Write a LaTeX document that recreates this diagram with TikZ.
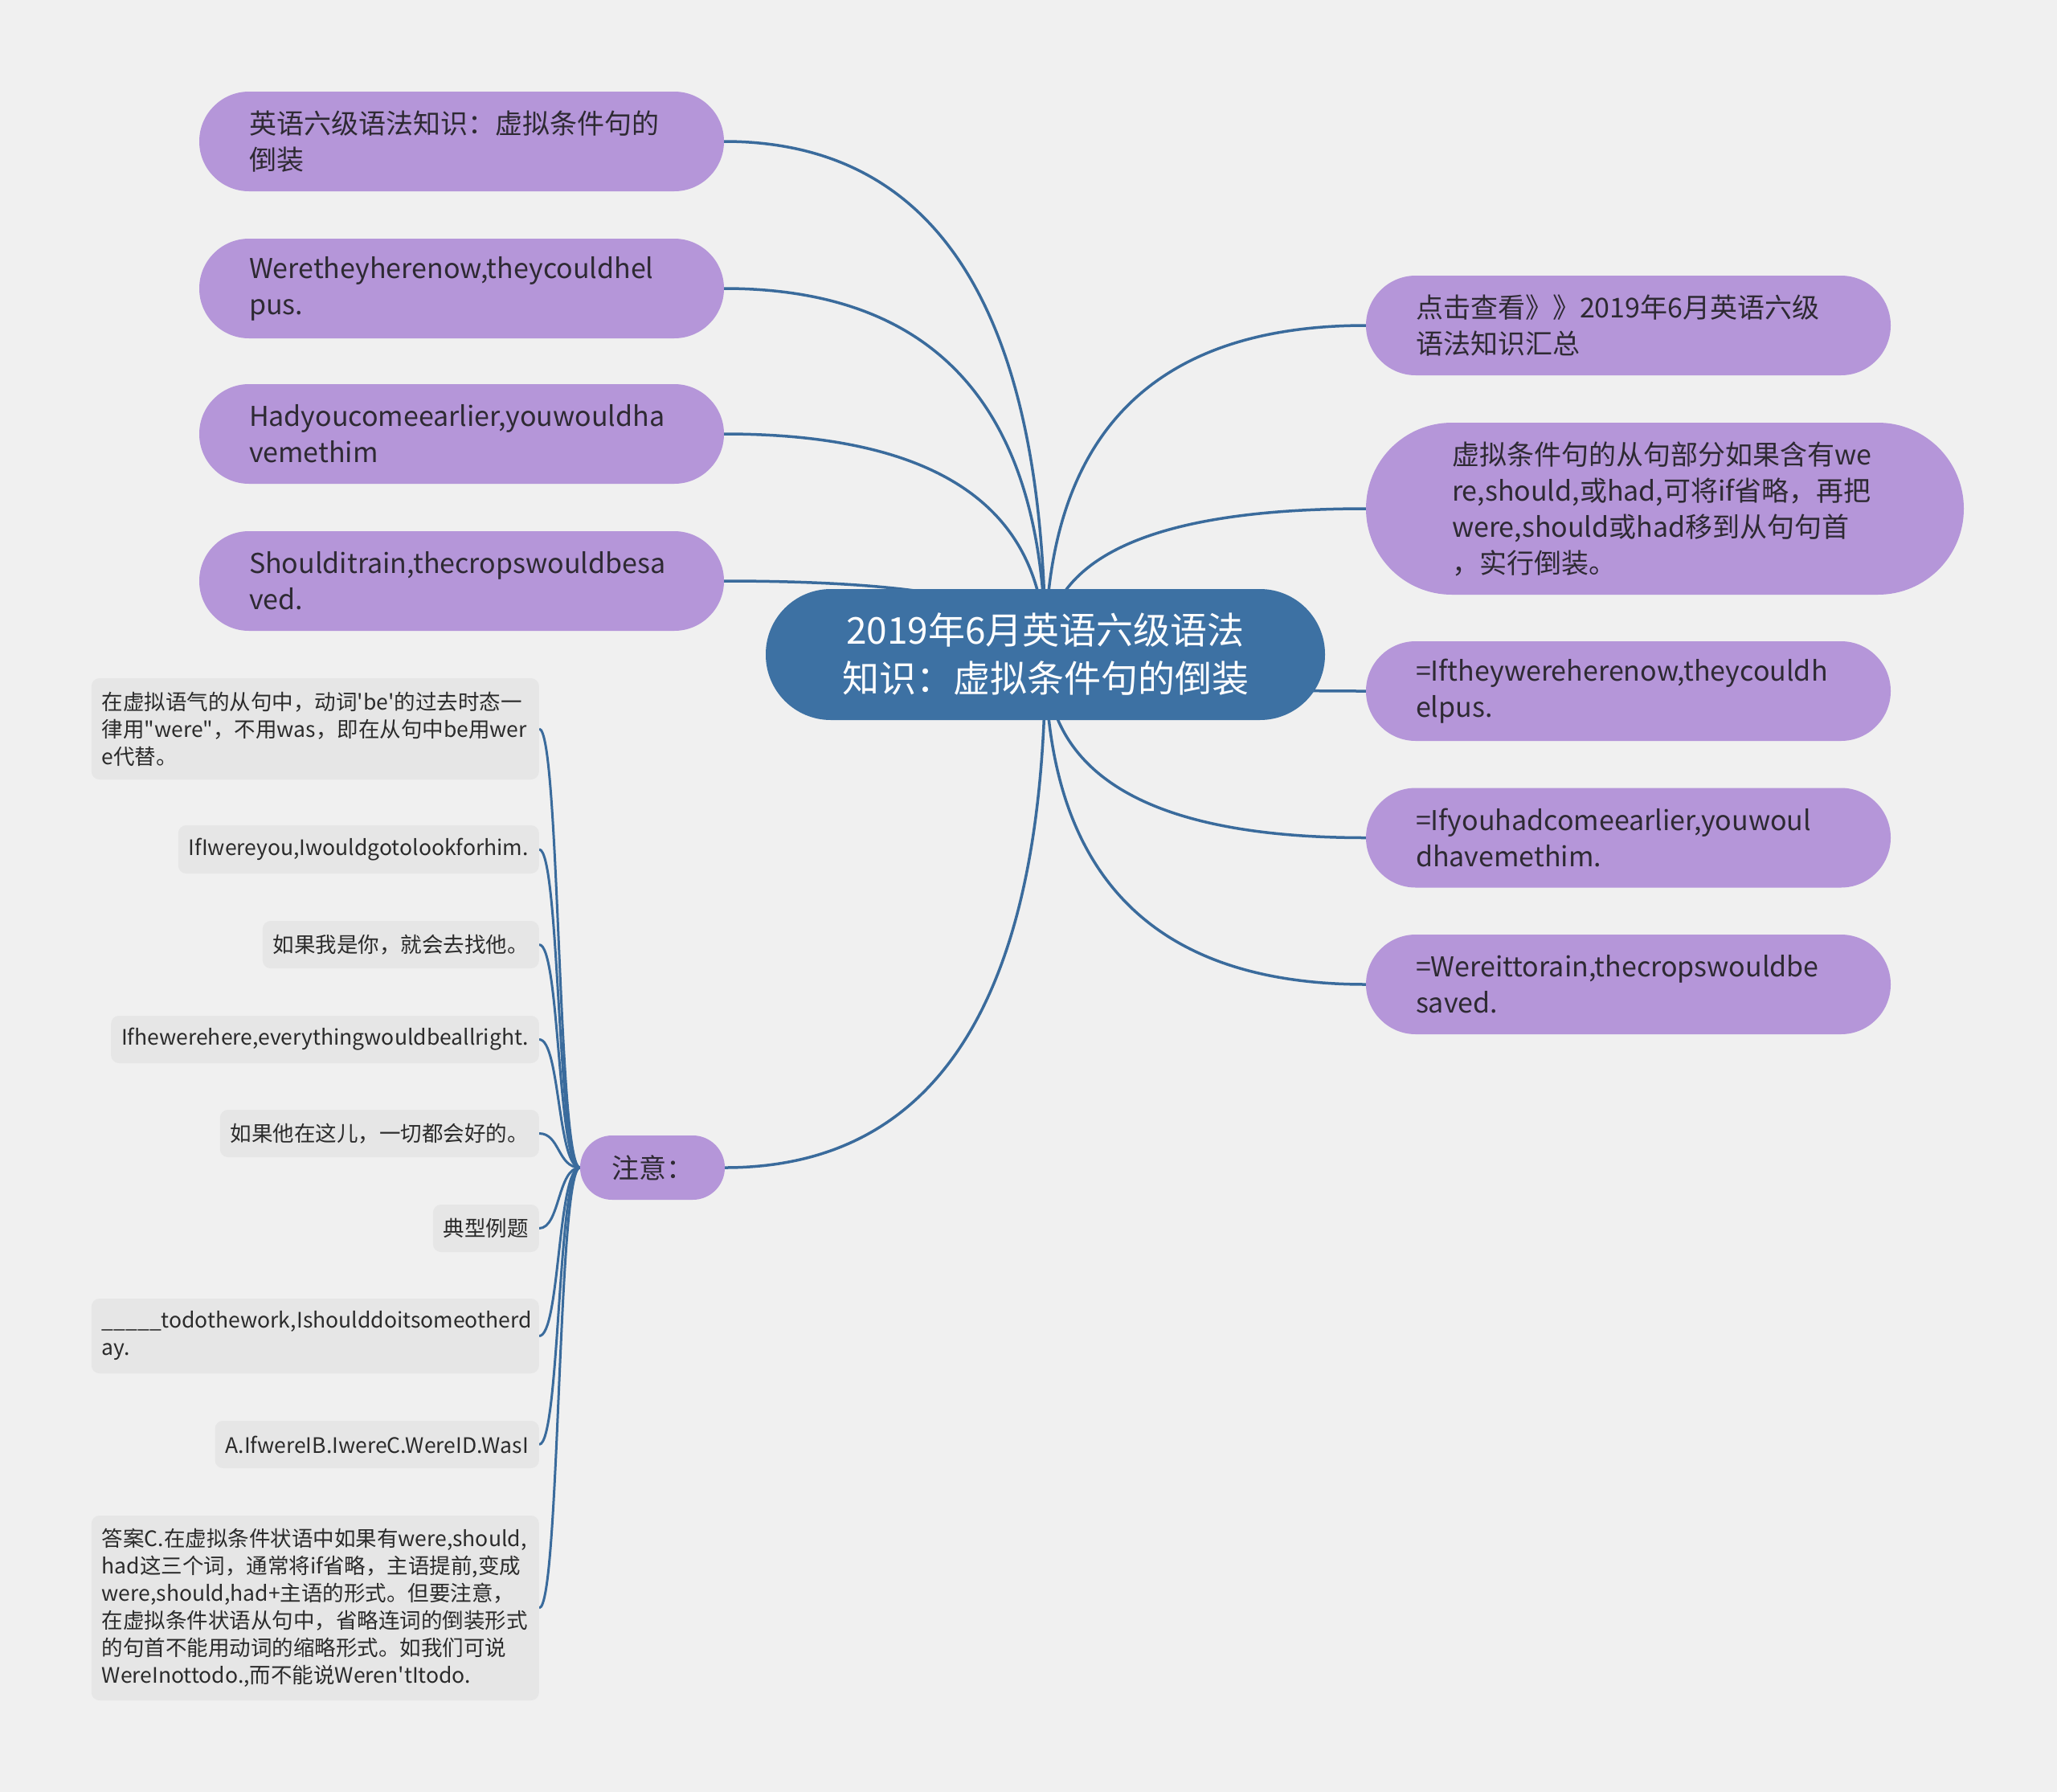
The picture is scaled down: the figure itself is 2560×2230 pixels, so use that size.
\documentclass[tikz,border=0pt]{standalone}
\usepackage{fontspec}
\setmainfont{Noto Sans CJK SC}[Ligatures=TeXOff]
\usetikzlibrary{calc}
\pgfdeclarelayer{bgl}
\pgfdeclarelayer{edges}
\pgfsetlayers{bgl,edges,main}
\definecolor{bgc}{HTML}{F0F0F0}
\definecolor{leaffill}{HTML}{B596D9}
\definecolor{leaftext}{HTML}{2E2A33}
\definecolor{rootfill}{HTML}{3D71A3}
\definecolor{edgec}{HTML}{3A6B9C}
\definecolor{grayfill}{HTML}{E6E6E6}
\definecolor{graytext}{HTML}{2B2B2B}
\tikzset{
  rootnode/.style={rectangle, fill=rootfill, text=white, rounded corners=81pt,
    minimum width=696pt, minimum height=163pt, align=center,
    font=\fontsize{46pt}{60pt}\selectfont},
  leafp/.style={rectangle, fill=leaffill, text=leaftext, rounded corners=61.9pt,
    minimum height=124pt, inner xsep=62pt, inner ysep=0pt, text width=529pt,
    align=left, font=\fontsize{34pt}{45pt}\selectfont},
  leafbig/.style={leafp, rounded corners=106.9pt, minimum height=214pt,
    inner xsep=107pt, text width=530pt},
  leafsmall/.style={rectangle, fill=leaffill, text=leaftext, rounded corners=39.9pt,
    minimum height=80pt, minimum width=180pt, align=center,
    font=\fontsize{34pt}{45pt}\selectfont},
  grayn/.style={rectangle, fill=grayfill, text=graytext, rounded corners=10pt,
    inner xsep=13pt, inner ysep=4pt, anchor=east, align=left,
    font=\fontsize{26.5pt}{34pt}\selectfont},
  graywide/.style={grayn, text width=531pt},
  edge/.style={draw=edgec, line width=3.5pt},
  gedge/.style={draw=edgec, line width=3pt}
}
\begin{document}
\begin{tikzpicture}[x=1pt,y=-1pt]
\useasboundingbox (0,0) rectangle (2560,2230);
\begin{pgfonlayer}{bgl}
\fill[bgc] (0,0) rectangle (2560,2230);
\end{pgfonlayer}

% root
\node[rootnode] (c) at (1301,814.5) {2019年6月英语六级语法\\知识：虚拟条件句的倒装};

% left purple
\node[leafp] (L1) at (574.5,176) {英语六级语法知识：虚拟条件句的\\倒装};
\node[leafp] (L2) at (574.5,359) {Weretheyherenow,theycouldhel\\pus.};
\node[leafp] (L3) at (574.5,540) {Hadyoucomeearlier,youwouldha\\vemethim};
\node[leafp] (L4) at (574.5,723) {Shoulditrain,thecropswouldbesa\\ved.};

% right purple
\node[leafp] (R1) at (2026.5,405) {点击查看》》2019年6月英语六级\\语法知识汇总};
\node[leafbig] (R2) at (2072,633) {虚拟条件句的从句部分如果含有we\\re,should,或had,可将if省略，再把\\were,should或had移到从句句首\\，实行倒装。};
\node[leafp] (R3) at (2026.5,860) {=Iftheywereherenow,theycouldh\\elpus.};
\node[leafp] (R4) at (2026.5,1042.5) {=Ifyouhadcomeearlier,youwoul\\dhavemethim.};
\node[leafp] (R5) at (2026.5,1225) {=Wereittorain,thecropswouldbe\\saved.};

% note node
\node[leafsmall] (Z) at (812,1453) {注意：};

% gray nodes
\node[graywide, minimum height=126pt] (G1) at (671,907) {在虚拟语气的从句中，动词'be'的过去时态一\\律用"were"，不用was，即在从句中be用wer\\e代替。};
\node[grayn, minimum height=60pt] (G2) at (671,1057) {IfIwereyou,Iwouldgotolookforhim.};
\node[grayn, minimum height=59pt] (G3) at (671,1175.5) {如果我是你，就会去找他。};
\node[grayn, minimum height=59pt] (G4) at (671,1293.5) {Ifhewerehere,everythingwouldbeallright.};
\node[grayn, minimum height=59pt] (G5) at (671,1410.5) {如果他在这儿，一切都会好的。};
\node[grayn, minimum height=59pt] (G6) at (671,1528.5) {典型例题};
\node[graywide, minimum height=93pt] (G7) at (671,1662.5) {\_\_\_\_\_todothework,Ishoulddoitsomeotherd\\ay.};
\node[grayn, minimum height=59pt] (G8) at (671,1797.5) {A.IfwereIB.IwereC.WereID.WasI};
\node[graywide, minimum height=230pt] (G9) at (671,2001) {答案C.在虚拟条件状语中如果有were,should,\\had这三个词，通常将if省略，主语提前,变成\\were,should,had+主语的形式。但要注意，\\在虚拟条件状语从句中，省略连词的倒装形式\\的句首不能用动词的缩略形式。如我们可说\\WereInottodo.,而不能说Weren'tItodo.};

% edges
\begin{pgfonlayer}{edges}
\foreach \n/\a in {L1/east,L2/east,L3/east,L4/east,Z/east,R1/west,R2/west,R3/west,R4/west,R5/west}{
  \coordinate (k-\n) at (c.center |- \n.\a);
  \draw[edge] (c.center) .. controls ($(c.center)!0.6667!(k-\n)$) and ($(\n.\a)!0.6667!(k-\n)$) .. (\n.\a);
}
\foreach \g in {G1,G2,G3,G4,G5,G6,G7,G8,G9}{
  \draw[gedge] (Z.west) .. controls ($(Z.west)+(-28,0)$) and ($(\g.east)+(26,0)$) .. (\g.east);
}
\end{pgfonlayer}
\end{tikzpicture}
\end{document}
